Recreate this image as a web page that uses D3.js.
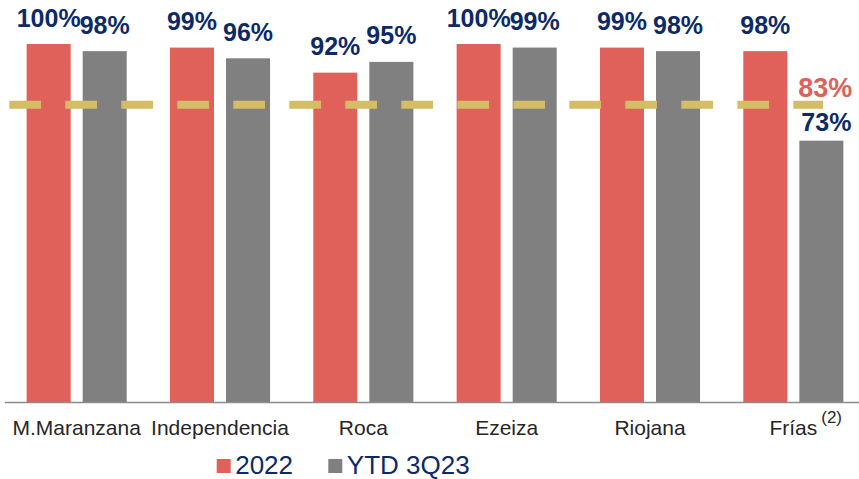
<!DOCTYPE html>
<html>
<head>
<meta charset="utf-8">
<script src="https://cdn.jsdelivr.net/npm/d3@7"></script>
<style>
  html, body { margin: 0; padding: 0; background: #fff; }
  svg { display: block; font-family: "Liberation Sans", Arial, sans-serif; }
</style>
</head>
<body>
<svg id="chart" width="859" height="479"></svg>
<script>
// Plant utilisation by site
const categories = ["M.Maranzana", "Independencia", "Roca", "Ezeiza", "Riojana", "Frías"];
const series = ["2022", "YTD 3Q23"];
const values2022 = [100, 99, 92, 100, 99, 98];
const valuesYTD = [98, 96, 95, 99, 98, 73];
const benchmark = 83;
const benchmarkLabel = "83%";
const footnotes = ["", "", "", "", "", "(2)"];

const colors = { "2022": "#E0615A", "YTD 3Q23": "#808080" };
const navy = "#0D2A68";
const gold = "#D5BC66";

const svg = d3.select("#chart");

const x0 = d3.scaleBand()
  .domain(categories)
  .range([5, 865])
  .paddingInner(0.3017)
  .paddingOuter(0.3017 / 2);

const x1 = d3.scaleBand()
  .domain(series)
  .range([0, x0.bandwidth()])
  .paddingInner(0.2143);

const y = d3.scaleLinear().domain([0, 100]).range([402, 44]);

const rows = categories.map((c, i) => ({
  cat: c,
  vals: [
    { s: "2022", v: values2022[i] },
    { s: "YTD 3Q23", v: valuesYTD[i] }
  ]
}));

// bars
const groups = svg.append("g").selectAll("g")
  .data(rows).join("g")
  .attr("transform", d => `translate(${x0(d.cat)},0)`);

groups.selectAll("rect")
  .data(d => d.vals).join("rect")
  .attr("x", d => x1(d.s))
  .attr("width", x1.bandwidth())
  .attr("y", d => y(d.v))
  .attr("height", d => y(0) - y(d.v))
  .attr("fill", d => colors[d.s]);

// value labels
groups.each(function(d, i) {
  d3.select(this).selectAll("text.val")
    .data(d.vals).join("text")
    .attr("class", "val")
    .attr("x", v => x1(v.s) + x1.bandwidth() / 2 + (i === 5 && v.s === "YTD 3Q23" ? 5 : 0))
    .attr("y", v => y(v.v) - (i === 5 && v.s === "YTD 3Q23" ? 10 : 17.5))
    .attr("text-anchor", "middle")
    .attr("font-size", 25)
    .attr("font-weight", "bold")
    .attr("fill", navy)
    .text(v => v.v + "%");
});

// x axis baseline
svg.append("line")
  .attr("x1", 5).attr("x2", 859)
  .attr("y1", y(0) + 0.5).attr("y2", y(0) + 0.5)
  .attr("stroke", "#8C8C8C")
  .attr("stroke-width", 1.6);

// benchmark dashed line
const by = y(benchmark);
svg.append("line")
  .attr("x1", 9.3).attr("x2", 823)
  .attr("y1", by).attr("y2", by)
  .attr("stroke", gold)
  .attr("stroke-width", 8)
  .attr("stroke-dasharray", "31.7 24.3");

svg.append("text")
  .attr("x", x0("Frías") + x1("YTD 3Q23") - 1)
  .attr("y", by - 8)
  .attr("font-size", 27)
  .attr("font-weight", "bold")
  .attr("fill", colors["2022"])
  .text(benchmarkLabel);

// category labels
const catY = 435;
categories.forEach((c, i) => {
  const cx = x0(c) + x0.bandwidth() / 2;
  const t = svg.append("text")
    .attr("x", cx)
    .attr("y", catY)
    .attr("text-anchor", "middle")
    .attr("font-size", 21)
    .attr("fill", "#262626")
    .text(c);
  if (footnotes[i]) {
    const w = t.node().getComputedTextLength();
    svg.append("text")
      .attr("x", cx + w / 2 + 4)
      .attr("y", catY - 12)
      .attr("font-size", 17)
      .attr("fill", "#262626")
      .text(footnotes[i]);
  }
});

// legend
const legendItems = [
  { s: "2022", x: 216.7 },
  { s: "YTD 3Q23", x: 328.3 }
];
const lg = svg.append("g");
legendItems.forEach(it => {
  lg.append("rect")
    .attr("x", it.x).attr("y", 459)
    .attr("width", 14).attr("height", 14)
    .attr("fill", colors[it.s]);
  lg.append("text")
    .attr("x", it.x + 18.5)
    .attr("y", 474)
    .attr("font-size", 26)
    .attr("fill", navy)
    .text(it.s);
});
</script>
</body>
</html>
